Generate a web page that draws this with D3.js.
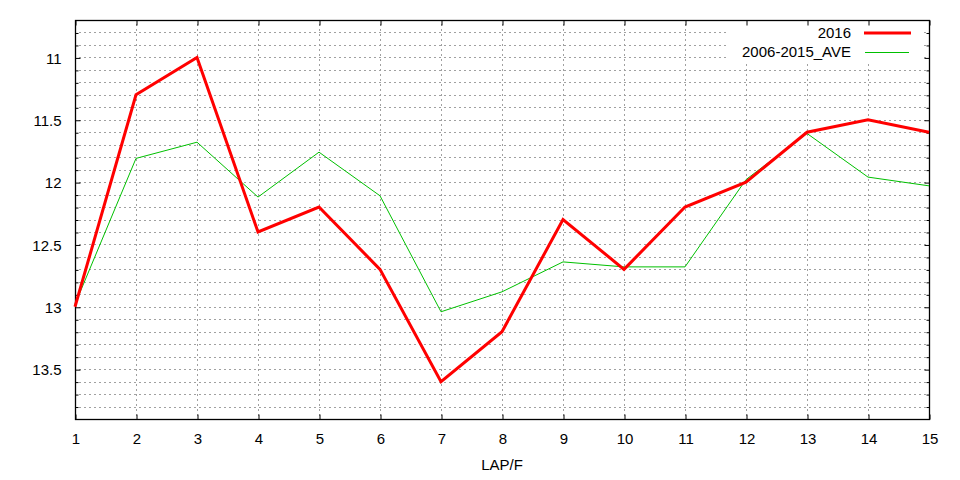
<!DOCTYPE html>
<html>
<head>
<meta charset="utf-8">
<script src="https://cdn.jsdelivr.net/npm/d3@7"></script>
<style>
  html, body { margin: 0; padding: 0; background: #fff; }
  svg { display: block; }
  text { font-family: "Liberation Sans", Arial, sans-serif; font-size: 15px; fill: #000; }
</style>
</head>
<body>
<svg id="chart" width="960" height="480"></svg>
<script>
const laps = [1, 2, 3, 4, 5, 6, 7, 8, 9, 10, 11, 12, 13, 14, 15];
const values2016 = [13.0, 11.3, 11.0, 12.4, 12.2, 12.7, 13.6, 13.2, 12.3, 12.7, 12.2, 12.0, 11.6, 11.5, 11.6];
const valuesAve = [12.98, 11.81, 11.68, 12.12, 11.76, 12.11, 13.04, 12.88, 12.64, 12.68, 12.68, 11.98, 11.61, 11.96, 12.03];
const yMajorTicks = [11, 11.5, 12, 12.5, 13, 13.5];
const yMinorTicks = d3.range(108, 139).map(v => v / 10);
const seriesNames = ["2016", "2006-2015_AVE"];

(function () {
const svg = d3.select("#chart");
const pL = 75, pR = 929, pT = 20, pB = 419;

const x = d3.scaleLinear().domain([1, 15]).range([pL, pR]);
const y = d3.scaleLinear().domain([10.7, 13.9]).range([pT, pB]);

// grid
const grid = svg.append("g").attr("stroke", "#a0a0a0").attr("stroke-width", 1).attr("stroke-dasharray", "2,3");
grid.selectAll("line.h").data(yMinorTicks).join("line")
  .attr("x1", pL + 4).attr("x2", pR)
  .attr("y1", d => Math.round(y(d)) + 0.5).attr("y2", d => Math.round(y(d)) + 0.5);
grid.selectAll("line.v").data(laps.slice(1, -1)).join("line")
  .attr("y1", pT + 4).attr("y2", pB)
  .attr("x1", d => Math.round(x(d)) + 0.5).attr("x2", d => Math.round(x(d)) + 0.5);

// legend background masks grid
svg.append("rect").attr("x", 729).attr("y", pT + 1).attr("width", 193).attr("height", 41).attr("fill", "#fff");

const tickFmt = d => (yMajorTicks.includes(d) ? String(d) : "");
function styleAxis(g) {
  g.select(".domain").remove();
  g.selectAll("line").attr("stroke", "#000");
  g.selectAll("text").attr("font-size", 15).attr("font-family", '"Liberation Sans", Arial, sans-serif');
}
const yLeft = svg.append("g").attr("transform", `translate(${pL + 0.5},0.5)`)
  .call(d3.axisLeft(y).tickValues(yMinorTicks).tickSize(-3).tickPadding(14).tickFormat(tickFmt));
styleAxis(yLeft);
yLeft.selectAll(".tick").filter(d => yMajorTicks.includes(d)).select("line").attr("x2", 5);
yLeft.selectAll("text").attr("dy", "0.35em").attr("x", -14);

const yRight = svg.append("g").attr("transform", `translate(${pR + 0.5},0.5)`)
  .call(d3.axisRight(y).tickValues(yMinorTicks).tickSize(-3).tickFormat(""));
styleAxis(yRight);
yRight.selectAll(".tick").filter(d => yMajorTicks.includes(d)).select("line").attr("x2", -5);

const xBottom = svg.append("g").attr("transform", `translate(0.5,${pB + 0.5})`)
  .call(d3.axisBottom(x).tickValues(laps).tickSize(-5).tickPadding(14).tickFormat(d3.format("d")));
styleAxis(xBottom);
const xTop = svg.append("g").attr("transform", `translate(0.5,${pT + 0.5})`)
  .call(d3.axisTop(x).tickValues(laps).tickSize(-5).tickFormat(""));
styleAxis(xTop);

// border
svg.append("rect").attr("x", pL + 0.5).attr("y", pT + 0.5)
  .attr("width", pR - pL).attr("height", pB - pT)
  .attr("fill", "none").attr("stroke", "#000").attr("stroke-width", 1.3);

// lines
const line = d3.line().x((d, i) => x(laps[i])).y(d => y(d));
const plot = svg.append("g");
plot.append("path").datum(valuesAve).attr("d", line).attr("fill", "none").attr("stroke", "#00c000").attr("stroke-width", 1);
plot.append("path").datum(values2016).attr("d", line).attr("fill", "none").attr("stroke", "#ff0000").attr("stroke-width", 3);

// legend
const legend = svg.append("g");
legend.append("text").attr("x", 851).attr("y", 38).attr("text-anchor", "end").text(seriesNames[0]);
legend.append("line").attr("x1", 864).attr("x2", 911).attr("y1", 33).attr("y2", 33).attr("stroke", "#ff0000").attr("stroke-width", 3);
legend.append("text").attr("x", 851).attr("y", 57).attr("text-anchor", "end").text(seriesNames[1]);
legend.append("line").attr("x1", 865).attr("x2", 909).attr("y1", 52.5).attr("y2", 52.5).attr("stroke", "#00c000").attr("stroke-width", 1);

// x label
svg.append("text").attr("x", (pL + pR) / 2).attr("y", 470).attr("text-anchor", "middle").text("LAP/F");
})();
</script>
</body>
</html>
